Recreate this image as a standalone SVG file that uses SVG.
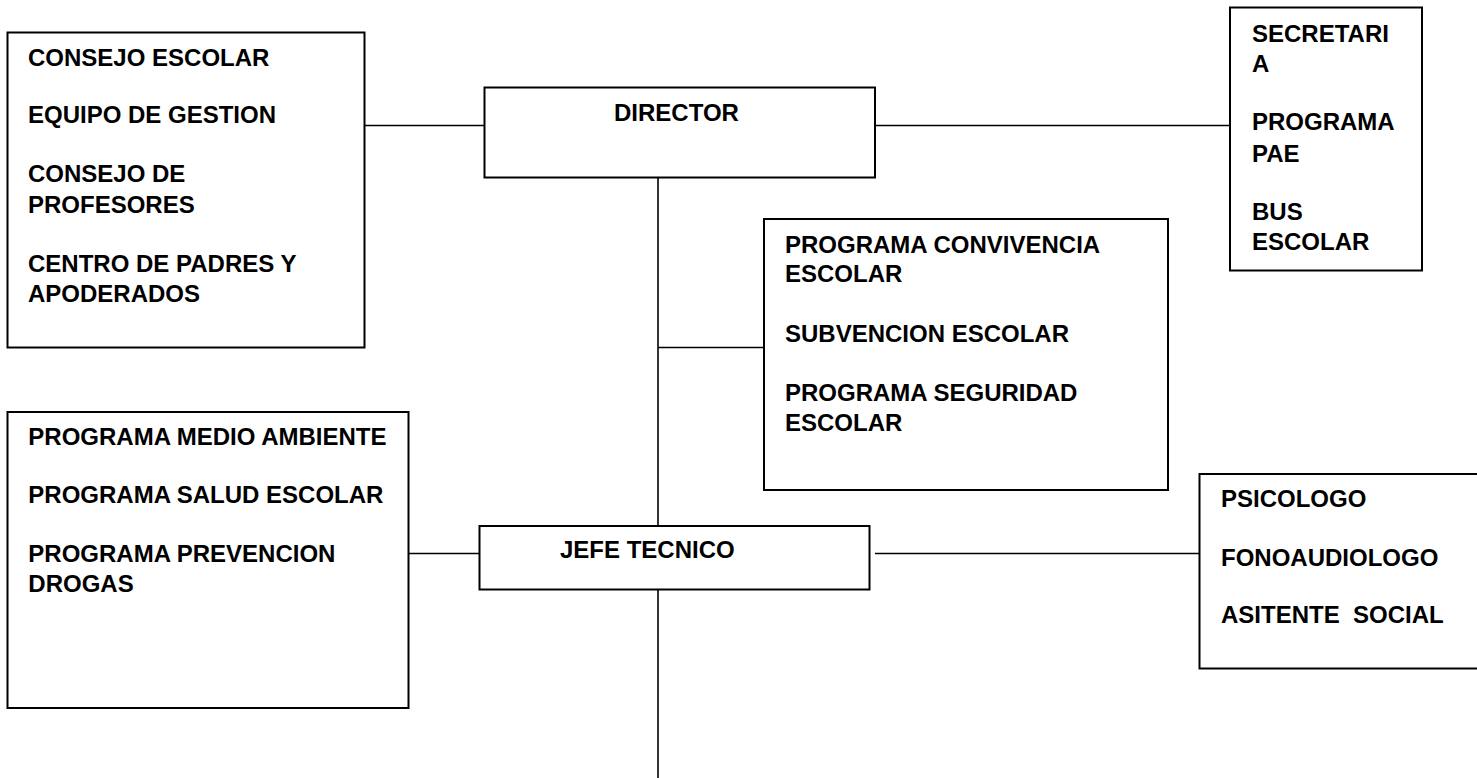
<svg xmlns="http://www.w3.org/2000/svg" width="1477" height="778" viewBox="0 0 1477 778">
<style>
.box{fill:#fff;stroke:#000;stroke-width:2}
.ln{stroke:#000;stroke-width:1.6;fill:none}
text{font-family:"Liberation Sans",Arial,sans-serif;font-weight:bold;font-size:24px;fill:#000;white-space:pre}
</style>
<rect width="1477" height="778" fill="#fff"/>
<g id="connectors">
<line class="ln" x1="365" y1="125.5" x2="484.5" y2="125.5"/>
<line class="ln" x1="875" y1="125.5" x2="1230" y2="125.5"/>
<line class="ln" x1="658" y1="177.5" x2="658" y2="526"/>
<line class="ln" x1="658" y1="347.5" x2="764" y2="347.5"/>
<line class="ln" x1="408.5" y1="553.5" x2="479.5" y2="553.5"/>
<line class="ln" x1="875" y1="553.5" x2="1199.5" y2="553.5"/>
<line class="ln" x1="658" y1="589.5" x2="658" y2="778"/>
</g>
<g id="consejo">
<rect class="box" x="7.5" y="32.5" width="357" height="315"/>
<text x="28" y="65.5">CONSEJO ESCOLAR</text>
<text x="28" y="122.5">EQUIPO DE GESTION</text>
<text x="28" y="182">CONSEJO DE</text>
<text x="28" y="213">PROFESORES</text>
<text x="28" y="272">CENTRO DE PADRES Y</text>
<text x="28" y="302">APODERADOS</text>
</g>
<g id="director">
<rect class="box" x="484.5" y="87.5" width="390.5" height="90"/>
<text x="614" y="121">DIRECTOR</text>
</g>
<g id="secretaria">
<rect class="box" x="1230" y="7.5" width="192" height="263"/>
<text x="1252" y="41.7">SECRETARI</text>
<text x="1252" y="71.7">A</text>
<text x="1252" y="130">PROGRAMA</text>
<text x="1252" y="161.7">PAE</text>
<text x="1252" y="220">BUS</text>
<text x="1252" y="250">ESCOLAR</text>
</g>
<g id="programas-director">
<rect class="box" x="764" y="219" width="404" height="271"/>
<text x="785" y="252.7">PROGRAMA CONVIVENCIA</text>
<text x="785" y="282">ESCOLAR</text>
<text x="785" y="341.7">SUBVENCION ESCOLAR</text>
<text x="785" y="401">PROGRAMA SEGURIDAD</text>
<text x="785" y="431">ESCOLAR</text>
</g>
<g id="programas-jefe">
<rect class="box" x="7.5" y="412" width="401" height="296"/>
<text x="28.3" y="445">PROGRAMA MEDIO AMBIENTE</text>
<text x="28.3" y="503.3">PROGRAMA SALUD ESCOLAR</text>
<text x="28.3" y="561.7">PROGRAMA PREVENCION</text>
<text x="28.3" y="592.3">DROGAS</text>
</g>
<g id="jefe-tecnico">
<rect class="box" x="479.5" y="526" width="390" height="63.5"/>
<text x="560" y="558">JEFE TECNICO</text>
</g>
<g id="apoyo">
<rect class="box" x="1199.5" y="474" width="290" height="194.5"/>
<text x="1221" y="507.3">PSICOLOGO</text>
<text x="1221" y="565.7">FONOAUDIOLOGO</text>
<text x="1221" y="623.3" xml:space="preserve">ASITENTE  SOCIAL</text>
</g>
</svg>
